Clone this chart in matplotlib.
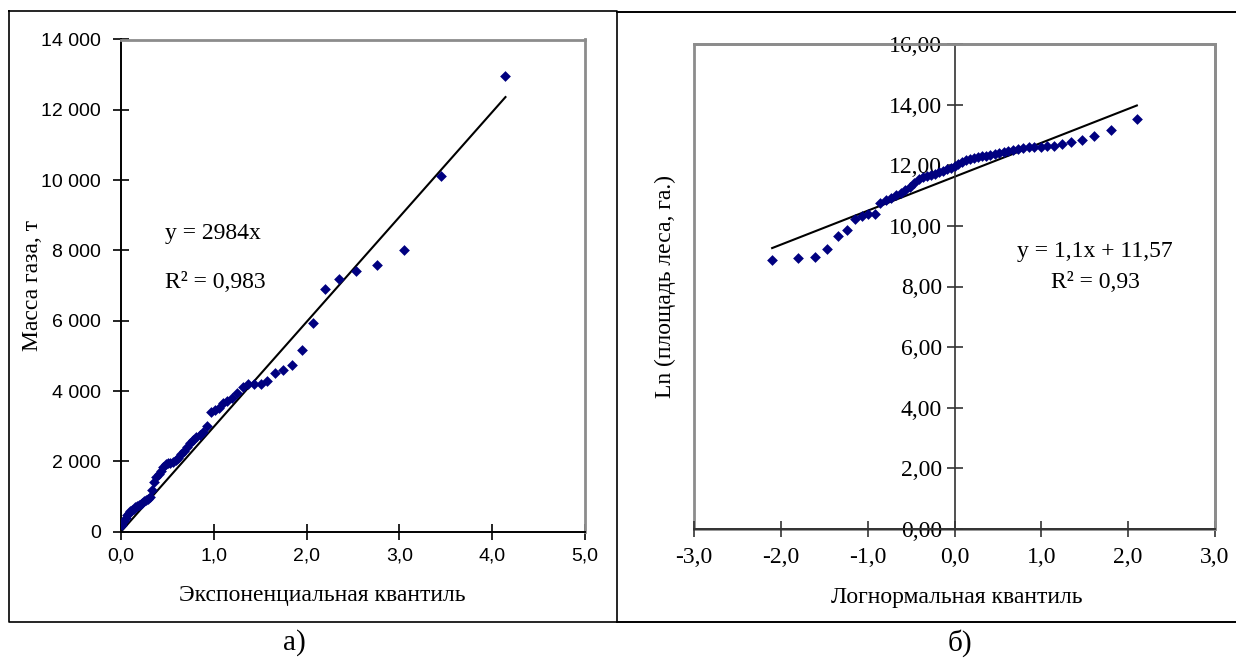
import matplotlib
matplotlib.use("Agg")
import matplotlib.pyplot as plt
from matplotlib.lines import Line2D
from matplotlib.patches import Rectangle

# ---------------- data: left panel (exponential Q-Q) ----------------
exp_quantile = [0.016, 0.032, 0.049, 0.066, 0.083, 0.100, 0.118, 0.136, 0.154, 0.173,
                0.192, 0.211, 0.231, 0.251, 0.272, 0.293, 0.315, 0.337, 0.359, 0.382,
                0.406, 0.430, 0.454, 0.480, 0.506, 0.532, 0.560, 0.588, 0.617, 0.647,
                0.677, 0.709, 0.742, 0.776, 0.811, 0.847, 0.885, 0.924, 0.965, 1.008,
                1.052, 1.099, 1.147, 1.199, 1.253, 1.310, 1.371, 1.435, 1.504, 1.578,
                1.658, 1.745, 1.841, 1.946, 2.064, 2.197, 2.351, 2.534, 2.757, 3.045,
                3.450, 4.143]
gas_mass = [200, 300, 400, 470, 530, 580, 620, 650, 690, 720,
            760, 790, 820, 860, 900, 940, 1000, 1180, 1420, 1560,
            1650, 1740, 1850, 1920, 1940, 1960, 1990, 2040, 2110, 2200,
            2300, 2400, 2510, 2600, 2680, 2760, 2850, 3000, 3400, 3460,
            3530, 3650, 3730, 3790, 3950, 4120, 4200, 4200, 4210, 4280,
            4510, 4600, 4750, 5170, 5940, 6900, 7190, 7410, 7600, 8025,
            10130, 12960]
left_slope = 2984
left_eq = "y = 2984x"
left_r2 = "R² = 0,983"
left_xticks = [0, 1, 2, 3, 4, 5]
left_xticklabels = ["0,0", "1,0", "2,0", "3,0", "4,0", "5,0"]
left_yticks = [0, 2000, 4000, 6000, 8000, 10000, 12000, 14000]
left_yticklabels = ["0", "2 000", "4 000", "6 000", "8 000", "10 000", "12 000", "14 000"]

# ---------------- data: right panel (lognormal Q-Q) ----------------
norm_quantile = [-2.100, -1.803, -1.611, -1.465, -1.345, -1.242, -1.150, -1.068, -0.992, -0.921,
                 -0.854, -0.792, -0.732, -0.674, -0.619, -0.566, -0.514, -0.464, -0.414, -0.366,
                 -0.319, -0.272, -0.226, -0.180, -0.135, -0.090, -0.045, 0.000, 0.045, 0.090,
                 0.135, 0.180, 0.226, 0.272, 0.319, 0.366, 0.414, 0.464, 0.514, 0.566,
                 0.619, 0.674, 0.732, 0.792, 0.854, 0.921, 0.992, 1.068, 1.150, 1.242,
                 1.345, 1.465, 1.611, 1.803, 2.100]
ln_forest = [8.87, 8.94, 8.98, 9.24, 9.68, 9.87, 10.23, 10.33, 10.38, 10.38,
             10.75, 10.85, 10.92, 11.02, 11.10, 11.18, 11.27, 11.40, 11.55, 11.60,
             11.64, 11.68, 11.72, 11.77, 11.82, 11.86, 11.92, 11.98, 12.05, 12.12,
             12.17, 12.20, 12.23, 12.26, 12.29, 12.32, 12.35, 12.38, 12.40, 12.43,
             12.46, 12.50, 12.54, 12.57, 12.59, 12.60, 12.61, 12.62, 12.65, 12.69,
             12.77, 12.83, 12.97, 13.16, 13.54]
right_slope = 1.12
right_intercept = 11.62
right_eq = "y = 1,1x + 11,57"
right_r2 = "R² = 0,93"
right_xticks = [-3, -2, -1, 0, 1, 2, 3]
right_xticklabels = ["-3,0", "-2,0", "-1,0", "0,0", "1,0", "2,0", "3,0"]
right_yticks = [0, 2, 4, 6, 8, 10, 12, 14, 16]
right_yticklabels = ["0,00", "2,00", "4,00", "6,00", "8,00", "10,00", "12,00", "14,00", "16,00"]

SERIF = "Liberation Serif"
SANS = "Liberation Sans"
W, H = 1236, 660
MARK = "#000080"
GRAY = "#8c8c8c"

fig = plt.figure(figsize=(W / 100, H / 100), dpi=100)
fig.patch.set_facecolor("white")


def px_rect(x0, y0, x1, y1):
    return [x0 / W, 1 - y1 / H, (x1 - x0) / W, (y1 - y0) / H]


def fig_line(xs, ys, **kw):
    fig.add_artist(Line2D([x / W for x in xs], [1 - y / H for y in ys],
                          transform=fig.transFigure, **kw))


def fig_text(x, y, s, **kw):
    fig.text(x / W, 1 - y / H, s, **kw)


# ---------------- left panel ----------------
axL = fig.add_axes(px_rect(121, 39.5, 585, 531.7))
axL.set_xlim(0, 5)
axL.set_ylim(0, 14000)
axL.scatter(exp_quantile, gas_mass, marker="D", s=30, color=MARK, linewidths=0, zorder=3)
xl = [0, max(exp_quantile)]
axL.plot(xl, [left_slope * v for v in xl], color="black", lw=1.5, zorder=2)
axL.set_xticks(left_xticks)
axL.set_xticklabels(left_xticklabels, fontfamily=SANS, fontsize=14)
axL.set_yticks(left_yticks)
axL.set_yticklabels(left_yticklabels, fontfamily=SANS, fontsize=14)
axL.tick_params(direction="inout", length=11, width=1.2, color="black", pad=6)
axL.tick_params(axis="y", pad=9)
for side in ("top", "right"):
    axL.spines[side].set_color(GRAY)
    axL.spines[side].set_linewidth(2)
for side in ("left", "bottom"):
    axL.spines[side].set_color("black")
    axL.spines[side].set_linewidth(1.4)
fig_text(165, 233, left_eq, fontfamily=SERIF, fontsize=17, ha="left", va="center")
fig_text(165, 283, left_r2, fontfamily=SERIF, fontsize=17, ha="left", va="center")

# ---------------- right panel ----------------
axR = fig.add_axes(px_rect(694, 44, 1215, 529))
axR.spines["left"].set_position(("data", 0))
axR.set_xlim(-3, 3)
axR.set_ylim(0, 16)
axR.scatter(norm_quantile, ln_forest, marker="D", s=30, color=MARK, linewidths=0, zorder=3)
xr = [min(norm_quantile), max(norm_quantile)]
axR.plot(xr, [right_slope * v + right_intercept for v in xr], color="black", lw=1.5, zorder=2)
axR.set_xticks(right_xticks)
axR.set_xticklabels(right_xticklabels, fontfamily=SERIF, fontsize=17)
axR.set_yticks(right_yticks)
axR.set_yticklabels(right_yticklabels, fontfamily=SERIF, fontsize=17)
axR.tick_params(direction="inout", length=12, width=1.2, color="#333333")
axR.tick_params(axis="x", pad=7)
axR.tick_params(axis="y", pad=3)
axR.spines["left"].set_color("#333333")
axR.spines["left"].set_linewidth(1.2)
axR.spines["bottom"].set_color("#333333")
axR.spines["bottom"].set_linewidth(1.4)
for side in ("top", "right"):
    axR.spines[side].set_color(GRAY)
    axR.spines[side].set_linewidth(2)
axR.add_patch(Rectangle((0, 0), 1, 1, transform=axR.transAxes, fill=False,
                        edgecolor=GRAY, lw=2, zorder=0, clip_on=False))
fig_text(1095, 252, right_eq, fontfamily=SERIF, fontsize=17, ha="center", va="center")
fig_text(1095, 283, right_r2, fontfamily=SERIF, fontsize=17, ha="center", va="center")

# ---------------- axis titles ----------------
fig_text(33, 285, "Масса газа, т", fontfamily=SERIF, fontsize=17, rotation=90,
         ha="center", va="center")
fig_text(322, 595, "Экспоненциальная квантиль", fontfamily=SERIF, fontsize=17,
         ha="center", va="center")
fig_text(665, 287, "Ln (площадь леса, га.)", fontfamily=SERIF, fontsize=17, rotation=90,
         ha="center", va="center")
fig_text(957, 598, "Логнормальная квантиль", fontfamily=SERIF, fontsize=17,
         ha="center", va="center")
fig_text(294, 643, "а)", fontfamily=SERIF, fontsize=21, ha="center", va="center")
fig_text(960, 643, "б)", fontfamily=SERIF, fontsize=21, ha="center", va="center")

# ---------------- panel frames ----------------
fig_line([9, 617, 617, 9, 9], [11, 11, 622, 622, 11], color="black", lw=1.2)
fig_line([617, 1236], [12, 12], color="black", lw=1.4)
fig_line([617, 1236], [622, 622], color="black", lw=1.4)

fig.savefig("out.png", dpi=100, facecolor="white")
